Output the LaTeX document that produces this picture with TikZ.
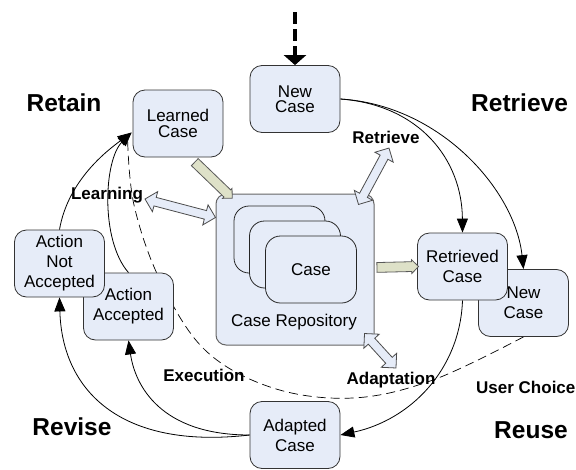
\documentclass[tikz,border=0pt]{standalone}
\usepackage{fontspec}
\setmainfont{Liberation Sans}
\usetikzlibrary{shapes.arrows,arrows.meta,calc,backgrounds}
\definecolor{boxfill}{RGB}{230,236,248}
\definecolor{olivefill}{RGB}{222,225,200}
\newcommand\fatarrow[3]{\path let \p1=(#2), \p2=(#3), \n1={atan2(\y2-\y1,\x2-\x1)}, \n2={veclen(\x2-\x1,\y2-\y1)} in node[#1, minimum height=\n2, rotate=\n1] at ($(#2)!0.5!(#3)$) {};}
\begin{document}
\begin{tikzpicture}[x=1pt,y=-1pt,
  box/.style={draw=black!80, fill=boxfill, rounded corners=12pt, minimum width=90pt, minimum height=67pt, align=center, inner sep=0pt, line width=0.8pt, font=\fontsize{17}{20}\selectfont},
  tight/.style={font=\fontsize{17}{15.5}\selectfont},
  stackbox/.style={draw=black!85, fill=boxfill, rounded corners=15pt, minimum width=91pt, minimum height=67pt, line width=0.8pt, inner sep=0pt, font=\fontsize{17}{20}\selectfont},
  big/.style={font=\fontsize{24.5}{28}\selectfont\bfseries, inner sep=0pt, text height=17.5pt, text depth=0pt},
  lab/.style={font=\fontsize{17}{20}\selectfont\bfseries, inner sep=0pt, text height=12.2pt, text depth=0pt},
  flow/.style={line width=0.8pt, -{Triangle[length=14pt,width=11pt]}},
  dashflow/.style={line width=0.7pt, dash pattern=on 9pt off 5pt},
  dbl/.style={double arrow, draw=black!70, fill=boxfill, line width=0.8pt, double arrow head extend=6pt, inner xsep=0pt, inner ysep=4pt, outer sep=0pt},
  oarrow/.style={single arrow, draw=black!65, fill=olivefill, line width=0.8pt, single arrow head extend=2pt, inner xsep=0pt, inner ysep=4.5pt, outer sep=0pt},
]
\useasboundingbox (0,0) rectangle (576,469);

% repository
\node[draw=black!60, fill=boxfill, rounded corners=10pt, minimum width=158pt, minimum height=151pt, line width=1pt] (repo) at (295,269.5) {};
\node[stackbox] (s1) at (279.5,239.5) {};
\node[stackbox] (s2) at (295,254.5) {};
\node[stackbox] (s3) at (311,269.5) {Case};
\node[font=\fontsize{17}{20}\selectfont, inner sep=0pt] (repolab) at (294,322) {Case Repository};

% boxes
\node[box, tight] (nc) at (295,99) {New\\Case};
\node[box, tight] (lc) at (178,123.5) {Learned\\Case};
\node[box] (nc2) at (523.5,303) {New\\Case};
\node[box] (rc) at (462.5,266.5) {Retrieved\\Case};
\node[box] (aa) at (128.5,306.5) {Action\\Accepted};
\node[box] (ana) at (59.5,263.5) {Action\\Not\\Accepted};
\node[box] (ac) at (295,435) {Adapted\\Case};

% labels
\node[big] (retain) at (64,103) {Retain};
\node[big, anchor=west] (retrbig) at (471,103) {Retrieve};
\node[big] (revise) at (72,427) {Revise};
\node[big] (reuse) at (531,430) {Reuse};
\node[lab] (learn) at (107,193) {Learning};
\node[lab] (retrlab) at (386,137) {Retrieve};
\node[lab] (exec) at (204,375) {Execution};
\node[lab] (adapt) at (391,378) {Adaptation};
\node[lab, anchor=west] (user) at (476,387) {User Choice};

% coordinates
\coordinate (ltip) at ($(lc.west)+(-1,9)$);
\coordinate (dtip) at ($(lc.west)+(-5,16)$);
\coordinate (start) at (295,12);
\coordinate (la) at (145,199);
\coordinate (lb) at ($(repo.north west)+(0,24)$);
\coordinate (ra) at ($(repo.north east)+(-16,11)$);
\coordinate (rb) at (389,148);
\coordinate (adA) at ($(repo.south east)+(-10,-12)$);
\coordinate (adB) at (396,368);
\coordinate (o1a) at ($(lc.south)+(15,3)$);
\coordinate (o1b) at ($(repo.north west)+(15,3)$);
\coordinate (o2a) at ($(repo.east)+(0,-2)$);
\coordinate (o2b) at ($(rc.west)+(-1,0)$);

% curves behind boxes
\begin{pgfonlayer}{background}
\fill[white] (0,0) rectangle (576,469);
\draw[flow] (nc.east) .. controls (420,105) and (462,160) .. (rc.north);
\draw[flow] (nc.east) .. controls (440,105) and (515,190) .. (nc2.north);
\draw[flow] (rc.south) .. controls (460,370) and (410,420) .. (ac.east);
\draw[flow] (ac.west) .. controls (160,435) and (135,385) .. (aa.south);
\draw[flow] (ac.west) .. controls (120,450) and (62,390) .. (ana.south);
\draw[flow] (ana.north) .. controls (68,180) and (108,150) .. (ltip);
\draw[flow] (aa.north) .. controls (100,240) and (104,160) .. (ltip);
\draw[dashflow] plot[smooth, tension=0.6] coordinates {(nc2.south) (433,380) (353,398) (273,388) (205,350) (160,280) (134,205) (dtip)};
\end{pgfonlayer}

% top dashed input arrow
\draw[line width=4pt, dash pattern=on 12pt off 5pt, -{Triangle[length=10pt,width=22pt]}] (start) -- (nc.north);

% fat arrows
\fatarrow{dbl}{la}{lb}
\fatarrow{dbl}{ra}{rb}
\fatarrow{dbl}{adA}{adB}
\fatarrow{oarrow}{o1a}{o1b}
\fatarrow{oarrow}{o2a}{o2b}
\end{tikzpicture}
\end{document}
